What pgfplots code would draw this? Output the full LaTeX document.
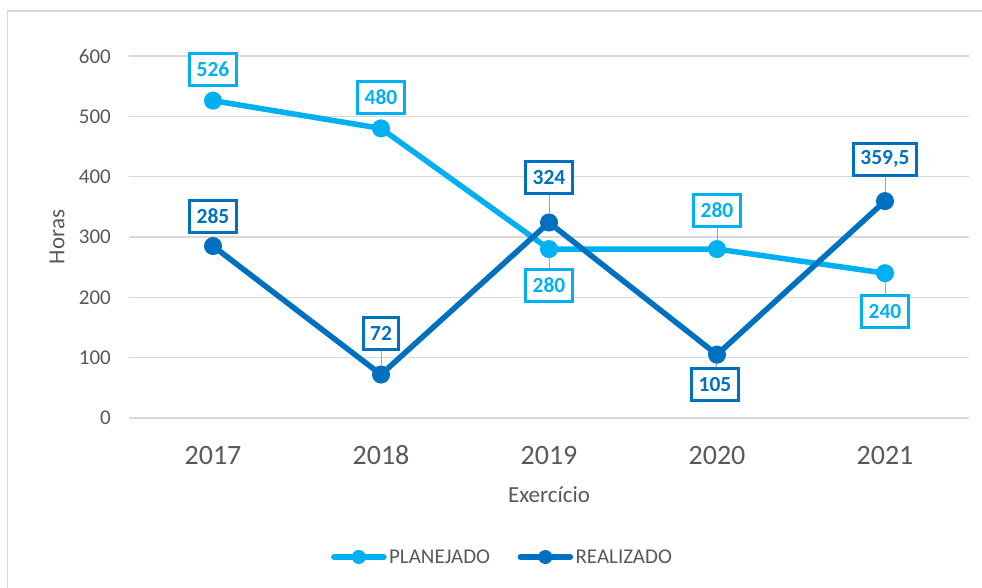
\documentclass[border=0pt]{standalone}
\usepackage{fontspec}
\setmainfont{Carlito}
\usepackage{pgfplots}
\pgfplotsset{compat=1.18}
\definecolor{plan}{HTML}{00B0F0}
\definecolor{real}{HTML}{0070C0}
\definecolor{txt}{HTML}{595959}
\definecolor{grd}{HTML}{D9D9D9}
\definecolor{lead}{HTML}{A6A6A6}
\tikzset{lbl/.style={draw=#1, text=#1, fill=white, line width=3pt,
  font=\bfseries\fontsize{21.5}{25}\selectfont, minimum height=32pt, inner xsep=7pt, inner ysep=0pt},
  ld/.style={lead, line width=1pt}}
\begin{document}
\begin{tikzpicture}[x=1pt,y=1pt]
\useasboundingbox (0pt,0pt) rectangle (982pt,588pt);
\fill[white] (0pt,0pt) rectangle (982pt,588pt);
\draw[grd, line width=1.5pt] (7.5pt,-20pt) rectangle (1000pt,577pt);
\begin{axis}[at={(129pt,170pt)}, anchor=south west, scale only axis,
  width=840pt, height=362pt,
  xmin=-0.5, xmax=4.5, ymin=0, ymax=600,
  axis line style={draw=none}, major tick length=0pt,
  ytick={0,100,...,600}, xtick={0,1,2,3,4},
  xticklabels={2017,2018,2019,2020,2021},
  ymajorgrids, grid style={grd, line width=1.3pt},
  /pgf/number format/assume math mode=true,
  ticklabel style={text=txt},
  yticklabel style={font=\fontsize{21}{25}\selectfont, anchor=east, inner sep=0pt, xshift=-18pt},
  xticklabel style={font=\fontsize{28}{33}\selectfont, anchor=base, inner sep=0pt, yshift=-47pt},
  clip=false,
  legend columns=2,
  legend style={draw=none, at={(0.445,-0.384)}, anchor=center,
    font=\fontsize{21}{25}\selectfont, text=txt,
    nodes={inner sep=2.5pt},
    /tikz/every even column/.append style={column sep=25pt}},
  legend image code/.code={\draw[#1, mark size=6.5pt, mark repeat=3, mark phase=2] plot coordinates {(0pt,0pt) (25pt,0pt) (50pt,0pt)};},
]
\addplot[plan, line width=5.5pt, line join=round, line cap=round, mark=*, mark size=8.5pt, mark options={solid, line width=1pt}]
  coordinates {(0,526) (1,480) (2,280) (3,280) (4,240)};
\addlegendentry{PLANEJADO}
\addplot[real, line width=5.5pt, line join=round, line cap=round, mark=*, mark size=8.5pt, mark options={solid, line width=1pt}]
  coordinates {(0,285) (1,72) (2,324) (3,105) (4,359.5)};
\addlegendentry{REALIZADO}
% leader lines
\draw[ld] (axis cs:2,324) -- ++(0pt,45pt);
\draw[ld] (axis cs:2,280) -- ++(0pt,-36pt);
\draw[ld] (axis cs:1,72) -- ++(0pt,41pt);
\draw[ld] (axis cs:4,359.5) -- ++(0pt,42pt);
\draw[ld] (axis cs:3,280) -- ++(0pt,39pt);
\draw[ld] (axis cs:4,240) -- ++(0pt,-38pt);
\draw[ld] (axis cs:3,105) -- ++(-2pt,-30pt);
% labels PLANEJADO
\node[lbl=plan] at (axis cs:0,526) [yshift=31pt] {526};
\node[lbl=plan] at (axis cs:1,480) [yshift=31pt] {480};
\node[lbl=plan] at (axis cs:2,280) [yshift=-36pt] {280};
\node[lbl=plan] at (axis cs:3,280) [yshift=39pt] {280};
\node[lbl=plan] at (axis cs:4,240) [yshift=-38pt] {240};
% labels REALIZADO
\node[lbl=real] at (axis cs:0,285) [yshift=30pt] {285};
\node[lbl=real] at (axis cs:1,72) [yshift=41pt] {72};
\node[lbl=real] at (axis cs:2,324) [yshift=45pt] {324};
\node[lbl=real] at (axis cs:3,105) [yshift=-30pt, xshift=-2pt] {105};
\node[lbl=real] at (axis cs:4,359.5) [yshift=42pt] {359,5};
\end{axis}
\node[text=txt, font=\fontsize{23}{27}\selectfont, rotate=90] at (57pt,351pt) {Horas};
\node[text=txt, font=\fontsize{23}{27}\selectfont] at (549pt,93pt) {Exercício};
\end{tikzpicture}
\end{document}
